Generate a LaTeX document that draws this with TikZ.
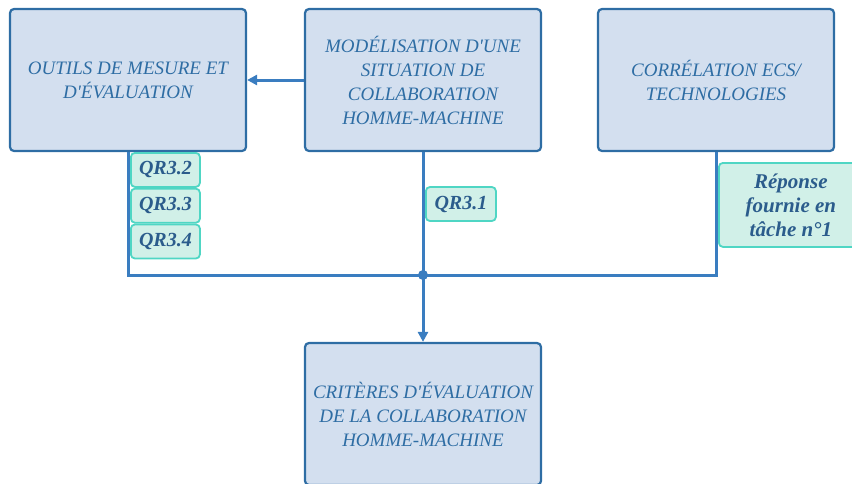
\documentclass[tikz,border=0pt]{standalone}
\usepackage{fontspec}
\setmainfont{Liberation Serif}
\usetikzlibrary{arrows.meta, positioning}
\definecolor{boxfill}{HTML}{D3DFEF}
\definecolor{boxline}{HTML}{2E6DA4}
\definecolor{linkblue}{HTML}{3A7DC0}
\definecolor{qrfill}{HTML}{D1F0E8}
\definecolor{qrline}{HTML}{4FD6C4}
\definecolor{qrtext}{HTML}{2B5C8C}
\newcommand{\apos}{\textquotesingle}

\begin{document}
\begin{tikzpicture}[
  x=1pt, y=-1pt,
  >={Triangle[length=10pt, width=10pt]},
  task/.style={draw=boxline, fill=boxfill, line width=2.2pt, rounded corners=4pt,
    minimum width=236pt, minimum height=142pt, inner sep=0pt,
    align=center, text=boxline,
    font=\fontsize{19}{24}\selectfont\itshape},
  qr/.style={draw=qrline, fill=qrfill, line width=1.8pt, rounded corners=4pt,
    inner sep=0pt, text=qrtext, align=center,
    font=\fontsize{20}{24}\selectfont\bfseries\itshape},
  link/.style={draw=linkblue, line width=3pt}
]

% Frame of the page
\useasboundingbox (0,0) rectangle (852,483);

% ── Boxes ──
\node[task] (outils) at (128,80) {OUTILS DE MESURE ET\\D\apos ÉVALUATION};
\node[task] (modele) at (423,80) {MODÉLISATION D\apos UNE\\SITUATION DE\\COLLABORATION\\HOMME-MACHINE};
\node[task] (correl) at (716,80) {CORRÉLATION ECS/\\TECHNOLOGIES};
\node[task] (criteres) at (423,414) {CRITÈRES D\apos ÉVALUATION\\DE LA COLLABORATION\\HOMME-MACHINE};

% ── Junction ──
\coordinate (jct) at (423,275);

% ── Connectors ──
\draw[link, ->] (modele.west) -- (outils.east);
\draw[link] (outils.south) |- (jct);
\draw[link] (correl.south) |- (jct);
\draw[link] (modele.south) -- (jct);
\draw[link, ->] (jct) -- (criteres.north);
\fill[linkblue] (jct) circle (5pt);

% ── Question labels ──
\node[qr, minimum width=69pt, minimum height=34pt, anchor=north west]
  (qr32) at (130,152) {QR3.2};
\node[qr, minimum width=69pt, minimum height=34pt, below=0pt of qr32] (qr33) {QR3.3};
\node[qr, minimum width=69pt, minimum height=34pt, below=0pt of qr33] (qr34) {QR3.4};
\node[qr, minimum width=70pt, minimum height=34pt, anchor=west]
  (qr31) at (425,204) {QR3.1};
\node[qr, minimum width=144pt, minimum height=84pt, anchor=north west,
  font=\fontsize{21}{24}\selectfont\bfseries\itshape]
  (reponse) at (718,162) {Réponse\\fournie en\\tâche n°1};

\end{tikzpicture}
\end{document}
